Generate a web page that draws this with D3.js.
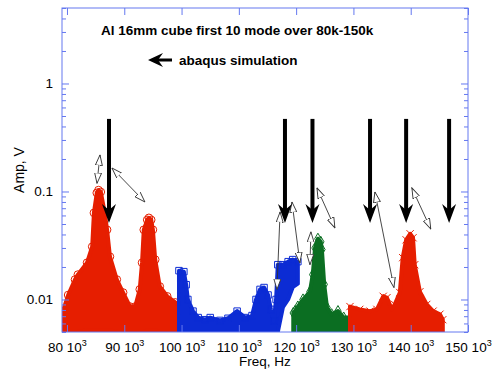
<!DOCTYPE html>
<html>
<head>
<meta charset="utf-8">
<script src="https://cdn.jsdelivr.net/npm/d3@7"></script>
<style>
  body { margin: 0; background: #fff; }
  svg { display: block; font-family: "Liberation Sans", Arial, sans-serif; }
</style>
</head>
<body>
<svg id="chart" width="496" height="370"></svg>
<script>
// ── data (frequency in kHz, amplitude in V) ─────────────────────────────────

const xTicks = [80, 90, 100, 110, 120, 130, 140, 150];
const yTickLabels = [0.01, 0.1, 1];

// measured spectra: upper / lower envelope of the dense scatter
const red1Freq = [79.3, 80.2, 81.4, 81.9, 83.5, 84.4, 84.7, 85.2, 85.5, 85.9, 86.6, 87.0, 87.5, 88.7, 89.8, 91.0,
                  91.9, 92.7, 93.1, 93.4, 94.0, 94.3, 94.7, 95.0, 95.4, 96.2, 97.5, 98.9, 100.1];
const red1Hi   = [0.0078, 0.011, 0.0153, 0.017, 0.0219, 0.0308, 0.0634, 0.097, 0.103, 0.099, 0.0634, 0.0442, 0.0249, 0.0153, 0.0116, 0.0086,
                  0.0086, 0.0124, 0.0219, 0.0442, 0.0546, 0.057, 0.0546, 0.0442, 0.0234, 0.0132, 0.0107, 0.0094, 0.0084];
const red1Lo   = [0.005, 0.005, 0.005, 0.005, 0.0052, 0.0052, 0.0052, 0.0052, 0.0052, 0.0052, 0.0052, 0.0052, 0.0052, 0.005, 0.005, 0.005,
                  0.005, 0.005, 0.005, 0.005, 0.0052, 0.0052, 0.0052, 0.0052, 0.0052, 0.005, 0.005, 0.005, 0.005];

const blueFreq = [99.55, 100.4, 100.8, 101.1, 102.0, 102.9, 104.1, 105.0, 106.7, 108.1, 109.7, 111.1, 112.3, 113.0,
                  113.7, 114.4, 115.1, 115.6, 116.1, 116.5, 116.8, 117.7, 118.6, 119.4, 120.3];
const blueHi   = [0.0185, 0.0181, 0.0137, 0.010, 0.0078, 0.0068, 0.0065, 0.0068, 0.0064, 0.0067, 0.0078, 0.0068, 0.0071, 0.010,
                  0.0124, 0.0129, 0.011, 0.0081, 0.0063, 0.010, 0.021, 0.021, 0.0224, 0.0234, 0.0224];
const blueLo   = [0.005, 0.005, 0.005, 0.005, 0.005, 0.005, 0.005, 0.005, 0.005, 0.005, 0.005, 0.005, 0.005, 0.005,
                  0.005, 0.005, 0.005, 0.005, 0.005, 0.005, 0.005, 0.0085, 0.010, 0.013, 0.014];

const greenFreq = [119.5, 119.8, 120.3, 121.2, 122.4, 122.9, 123.3, 123.8, 124.3, 124.5, 124.9, 125.4, 126.2, 127.3, 128.3, 129.7];
const greenHi   = [0.0075, 0.0078, 0.0086, 0.010, 0.0118, 0.017, 0.030, 0.0365, 0.0342, 0.029, 0.0138, 0.0084, 0.0073, 0.0078, 0.0068, 0.0068];

const red2Freq = [129.4, 131.1, 132.9, 134.1, 135.2, 135.85, 136.7, 137.2, 138.1, 138.6, 139.2, 139.9, 140.4, 140.7, 141.6, 142.8, 143.9, 145.1, 145.6];
const red2Hi   = [0.0086, 0.0081, 0.0078, 0.0081, 0.0107, 0.0104, 0.0081, 0.009, 0.0116, 0.0244, 0.0357, 0.0406, 0.0373, 0.021, 0.0118, 0.009, 0.0078, 0.0073, 0.0065];

// abaqus simulated mode frequencies (thick arrows)
const simFreq = [87.33, 118.05, 122.85, 132.9, 139.2, 146.7];
const simTop = 0.47, simTip = 0.051;

// thin double arrows: [f1, a1, f2, a2]
const thinArrows = [
  [85.76, 0.218, 85.24, 0.119],
  [87.85, 0.165, 93.6, 0.080],
  [117.2, 0.0647, 116.65, 0.0124],
  [119.27, 0.080, 120.66, 0.0219],
  [122.58, 0.0423, 122.41, 0.021],
  [123.63, 0.108, 126.77, 0.046],
  [133.75, 0.099, 137.07, 0.0129],
  [140.2, 0.108, 143.5, 0.045],
];

// ── setup ──────────────────────────────────────────────────────────────────

const AXIS  = '#6478f0';
const RED   = '#e61e00';
const BLUE  = '#0c2cd4';
const GREEN = '#0b6e22';

const L = 62, R = 468, T = 8, B = 332;

const x = d3.scaleLinear().domain([79.13, 150]).range([L, R]);
const y = d3.scaleLog().domain([0.005, 5]).range([B, T]);

const svg = d3.select('#chart');

svg.append('defs').append('clipPath').attr('id', 'plot-clip')
  .append('rect').attr('x', L).attr('y', T).attr('width', R - L).attr('height', B - T);

const series = [
  { freq: red1Freq,  hi: red1Hi,  lo: red1Lo, color: RED,   shape: d3.symbolCircle,  size: 46 },
  { freq: blueFreq,  hi: blueHi,  lo: blueLo, color: BLUE,  shape: d3.symbolSquare,  size: 42 },
  { freq: greenFreq, hi: greenHi, lo: null,   color: GREEN, shape: d3.symbolDiamond, size: 36 },
  { freq: red2Freq,  hi: red2Hi,  lo: null,   color: RED,   shape: d3.symbolTimes || d3.symbolCross, size: 36 },
];

const plot = svg.append('g').attr('clip-path', 'url(#plot-clip)');

for (const s of series) {
  const pts = s.freq.map((f, i) => ({ f, hi: s.hi[i], lo: s.lo ? s.lo[i] : null }));

  const area = d3.area()
    .x(d => x(d.f))
    .y1(d => y(d.hi))
    .y0(d => d.lo == null ? B + 2 : y(d.lo));

  plot.append('path')
    .datum(pts)
    .attr('d', area)
    .attr('fill', s.color)
    .attr('stroke', s.color)
    .attr('stroke-width', 4)
    .attr('stroke-linejoin', 'round');

  plot.append('g')
    .selectAll('path')
    .data(pts)
    .join('path')
    .attr('transform', d => `translate(${x(d.f)},${y(d.hi)})`)
    .attr('d', d3.symbol().type(s.shape).size(s.size))
    .attr('fill', 'none')
    .attr('stroke', s.color)
    .attr('stroke-width', 1);
}

// ── axes ───────────────────────────────────────────────────────────────────

const minorY = y.ticks().filter(v => !yTickLabels.some(m => Math.abs(m - v) < 1e-9));

function styleAxis(g) {
  g.select('.domain').remove();
  g.selectAll('.tick line').attr('stroke', AXIS);
  g.selectAll('.tick text')
    .attr('fill', '#000')
    .attr('font-family', '"Liberation Sans", Arial, sans-serif')
    .attr('font-size', 13.5);
}

// bottom with labels
const gx = svg.append('g')
  .attr('transform', `translate(0,${B})`)
  .call(d3.axisBottom(x).tickValues(xTicks).tickSize(-7).tickPadding(0).tickFormat(d => d))
  .call(styleAxis);

gx.selectAll('.tick text')
  .attr('y', 20)
  .attr('dy', null)
  .text(null)
  .each(function (d) {
    const t = d3.select(this);
    t.append('tspan').text(`${d} 10`);
    t.append('tspan').attr('dy', -6).attr('font-size', 9).text('3');
  });

svg.append('g')
  .attr('transform', `translate(0,${T})`)
  .call(d3.axisTop(x).tickValues(xTicks).tickSize(-7).tickFormat(''))
  .call(styleAxis);

// left
svg.append('g')
  .attr('transform', `translate(${L},0)`)
  .call(d3.axisLeft(y).tickValues(yTickLabels).tickSize(-7).tickPadding(9).tickFormat(d3.format('~g')))
  .call(styleAxis);
svg.append('g')
  .attr('transform', `translate(${L},0)`)
  .call(d3.axisLeft(y).tickValues(minorY).tickSize(-4).tickFormat(''))
  .call(styleAxis);

// right
svg.append('g')
  .attr('transform', `translate(${R},0)`)
  .call(d3.axisRight(y).tickValues(yTickLabels).tickSize(-7).tickFormat(''))
  .call(styleAxis);
svg.append('g')
  .attr('transform', `translate(${R},0)`)
  .call(d3.axisRight(y).tickValues(minorY).tickSize(-4).tickFormat(''))
  .call(styleAxis);

// frame
svg.append('rect')
  .attr('x', L).attr('y', T)
  .attr('width', R - L).attr('height', B - T)
  .attr('fill', 'none')
  .attr('stroke', AXIS)
  .attr('stroke-width', 1);

// axis titles
svg.append('text')
  .attr('x', (L + R) / 2).attr('y', 366)
  .attr('text-anchor', 'middle')
  .attr('font-size', 13.5)
  .text('Freq, Hz');

svg.append('text')
  .attr('transform', `translate(24,${(T + B) / 2}) rotate(-90)`)
  .attr('text-anchor', 'middle')
  .attr('font-size', 14)
  .text('Amp, V');

// ── annotations ────────────────────────────────────────────────────────────

const defs = svg.select('defs');
defs.append('marker')
  .attr('id', 'open-head')
  .attr('viewBox', '0 -4 11 8')
  .attr('refX', 10.5)
  .attr('refY', 0)
  .attr('markerUnits', 'userSpaceOnUse')
  .attr('markerWidth', 11)
  .attr('markerHeight', 8)
  .attr('orient', 'auto-start-reverse')
  .append('path')
  .attr('d', 'M0,-3.5L10.5,0L0,3.5Z')
  .attr('fill', '#fff')
  .attr('stroke', '#333')
  .attr('stroke-width', 0.9);

svg.append('g')
  .selectAll('line')
  .data(thinArrows)
  .join('line')
  .attr('x1', d => x(d[0])).attr('y1', d => y(d[1]))
  .attr('x2', d => x(d[2])).attr('y2', d => y(d[3]))
  .attr('stroke', '#333')
  .attr('stroke-width', 0.9)
  .attr('marker-start', 'url(#open-head)')
  .attr('marker-end', 'url(#open-head)');

// thick simulation arrows
const sim = svg.append('g')
  .selectAll('g')
  .data(simFreq)
  .join('g')
  .attr('transform', d => `translate(${x(d)},0)`);

sim.append('line')
  .attr('x1', 0).attr('x2', 0)
  .attr('y1', y(simTop))
  .attr('y2', y(simTip) - 10)
  .attr('stroke', '#000')
  .attr('stroke-width', 4);

sim.append('path')
  .attr('d', `M0,${y(simTip)}L-7,${y(simTip) - 19}L0,${y(simTip) - 13}L7,${y(simTip) - 19}Z`)
  .attr('fill', '#000');

// title
svg.append('text')
  .attr('x', 101).attr('y', 35)
  .attr('font-size', 13.5)
  .attr('font-weight', 'bold')
  .text('Al 16mm cube first 10 mode over 80k-150k');

svg.append('text')
  .attr('x', 179).attr('y', 65)
  .attr('font-size', 13.5)
  .attr('font-weight', 'bold')
  .text('abaqus simulation');

// small legend arrow pointing left
svg.append('line')
  .attr('x1', 156).attr('x2', 172)
  .attr('y1', 60).attr('y2', 60)
  .attr('stroke', '#000')
  .attr('stroke-width', 3);
svg.append('path')
  .attr('d', 'M148,60L163,53L158,60L163,67Z')
  .attr('fill', '#000');
</script>
</body>
</html>
